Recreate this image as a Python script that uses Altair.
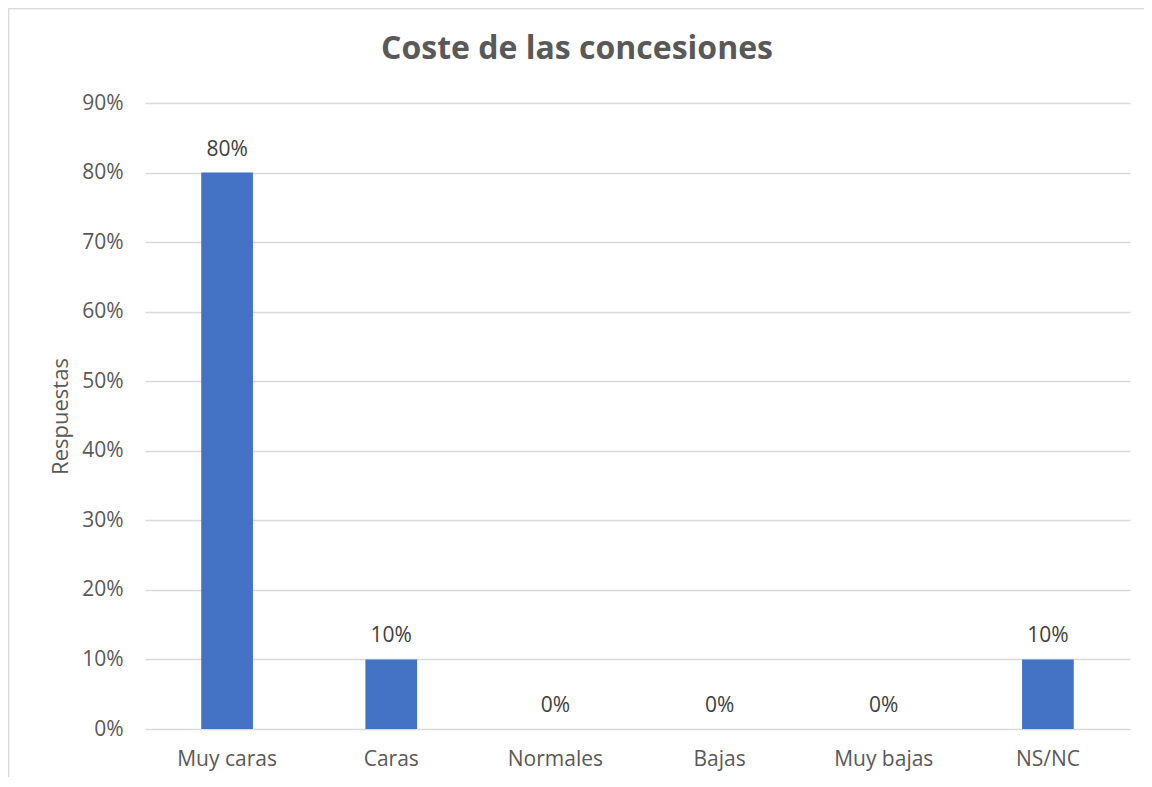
import altair as alt
import pandas as pd

categories = ["Muy caras", "Caras", "Normales", "Bajas", "Muy bajas", "NS/NC"]
values = [0.80, 0.10, 0.0, 0.0, 0.0, 0.10]
y_ticks = [0.0, 0.1, 0.2, 0.3, 0.4, 0.5, 0.6, 0.7, 0.8, 0.9]
chart_title = "Coste de las concesiones"

df = pd.DataFrame({"cat": categories, "val": values})

FONT = "Open Sans"
GRAY = "#595959"

x_enc = alt.X(
    "cat:N", sort=categories, title=None,
    scale=alt.Scale(paddingInner=0.685, paddingOuter=0.3425),
    axis=alt.Axis(labelAngle=0, labelFontSize=21, labelColor=GRAY, labelFont=FONT,
                  ticks=False, domain=False, labelPadding=19),
)
y_enc = alt.Y(
    "val:Q", title="Respuestas",
    scale=alt.Scale(domain=[0, 0.9], nice=False),
    axis=alt.Axis(values=y_ticks, format=".0%", labelFontSize=21, labelColor=GRAY,
                  labelFont=FONT, ticks=False, domain=False, labelPadding=22,
                  gridColor="#d9d9d9", gridWidth=1.5, titleFont=FONT, titleFontSize=22,
                  titleFontWeight="normal", titleColor=GRAY,
                  titleX=-85, titleY=313, titleAngle=270, titleAlign="center",
                  titleBaseline="middle"),
)

bars = alt.Chart(df).mark_bar(color="#4472C4").encode(x=x_enc, y=y_enc)
labels = alt.Chart(df).mark_text(
    baseline="bottom", dy=-13, fontSize=21, font=FONT, color="#404040"
).encode(x=alt.X("cat:N", sort=categories), y="val:Q", text=alt.Text("val:Q", format=".0%"))

title_df = pd.DataFrame({"t": [chart_title]})
title = alt.Chart(title_df).mark_text(
    font=FONT, fontSize=32, fontWeight="bold", color=GRAY, align="center", baseline="middle"
).encode(x=alt.value(432), y=alt.value(-54), text="t:N")

border = alt.Chart(title_df).mark_rule(color="#d9d9d9", strokeWidth=1.5).encode(
    x=alt.value(-137), x2=alt.value(1010), y=alt.value(-94.5)
) + alt.Chart(title_df).mark_rule(color="#d9d9d9", strokeWidth=1.5).encode(
    x=alt.value(-136.5), y=alt.value(-95), y2=alt.value(700)
)

chart = (bars + labels + title + border).properties(
    width=985, height=626,
    padding={"left": 137, "top": 95, "right": 14, "bottom": 48},
    autosize=alt.AutoSizeParams(type="none"),
).configure_view(stroke=None)

chart.save("out.html", embed_options={"renderer": "svg", "actions": False})
